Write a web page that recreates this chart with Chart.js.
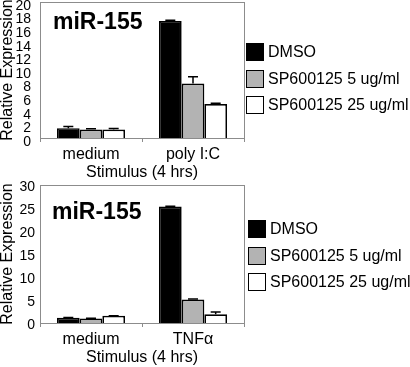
<!DOCTYPE html>
<html>
<head>
<meta charset="utf-8">
<script src="https://cdn.jsdelivr.net/npm/chart.js@4"></script>
<style>
  body { margin:0; background:#fff; width:410px; height:367px; overflow:hidden; position:relative; font-family:"Liberation Sans", Arial, sans-serif; }
  canvas { position:absolute; left:0; top:0; }
  .legend { position:absolute; left:246px; font-size:16px; color:#000; }
  .legend .item { position:absolute; left:0; white-space:nowrap; height:18px; line-height:18px; }
  .legend .box { position:absolute; left:0; top:0; width:16px; height:16px; border:1px solid #000; }
  .legend .txt { position:absolute; left:22px; top:0; }
  .tag { position:absolute; font:bold 23px "Liberation Sans", Arial, sans-serif; color:#000; }
</style>
</head>
<body>
<canvas id="c1" width="410" height="190"></canvas>
<canvas id="c2" width="410" height="190"></canvas>
<div class="tag" style="left:53px;top:8px">miR-155</div>
<div class="tag" style="left:52px;top:198px">miR-155</div>
<div class="legend" id="leg1" style="top:43px"></div>
<div class="legend" id="leg2" style="top:220px;left:248px"></div>

<script>
// --- data ---
const seriesNames = ['DMSO', 'SP600125 5 ug/ml', 'SP600125 25 ug/ml'];
const seriesColors = ['#000000', '#b3b3b3', '#ffffff'];

const polyCats = ['medium', 'poly I:C'];
const polyDmso = [1.45, 17.2];
const polySp5 = [1.25, 8.0];
const polySp25 = [1.25, 5.0];
const polyDmsoErr = [0.25, 0.1];
const polySp5Err = [0.1, 1.0];
const polySp25Err = [0.15, 0.1];

const tnfCats = ['medium', 'TNF\u03b1'];
const tnfDmso = [1.15, 25.3];
const tnfSp5 = [1.0, 5.1];
const tnfSp25 = [1.55, 1.9];
const tnfDmsoErr = [0.05, 0.1];
const tnfSp5Err = [0.05, 0.1];
const tnfSp25Err = [0.05, 0.5];

const FONT = '"Liberation Sans", Arial, sans-serif';
const FRAME = '#8c8c8c';

// --- error bars, drawn from the errs arrays through the y scale ---
const errorBars = {
  id: 'errorBars',
  afterDatasetsDraw(chart) {
    const ctx = chart.ctx;
    const y = chart.scales.y;
    ctx.save();
    ctx.strokeStyle = '#000';
    ctx.lineWidth = 1.5;
    chart.data.datasets.forEach((ds, di) => {
      const meta = chart.getDatasetMeta(di);
      meta.data.forEach((bar, i) => {
        const top = y.getPixelForValue(ds.data[i] + ds.errs[i]);
        ctx.beginPath();
        ctx.moveTo(bar.x, bar.y);
        ctx.lineTo(bar.x, top);
        ctx.moveTo(bar.x - 5, top);
        ctx.lineTo(bar.x + 5, top);
        ctx.stroke();
      });
    });
    ctx.restore();
  }
};

// --- gray frame round the plot area ---
const frame = {
  id: 'frame',
  beforeDatasetsDraw(chart) {
    const {ctx, chartArea: a} = chart;
    ctx.save();
    ctx.strokeStyle = FRAME;
    ctx.lineWidth = 1;
    ctx.strokeRect(Math.round(a.left) + 0.5, Math.round(a.top) + 0.5, Math.round(a.right - a.left), Math.round(a.bottom - a.top));
    ctx.restore();
  }
};

function makeChart(id, cats, values, errs, max, step, tickPad, labelOff) {
  return new Chart(document.getElementById(id), {
    type: 'bar',
    data: {
      labels: cats,
      datasets: values.map((v, i) => ({
        label: seriesNames[i],
        data: v,
        errs: errs[i],
        backgroundColor: seriesColors[i],
        borderColor: '#000',
        borderWidth: 1.7,
        borderSkipped: 'bottom',
        categoryPercentage: 0.667,
        barPercentage: 1.0
      }))
    },
    options: {
      responsive: false,
      maintainAspectRatio: false,
      animation: false,
      layout: { padding: { top: 2, right: 166, bottom: 2, left: 0 } },
      plugins: { legend: { display: false }, tooltip: { enabled: false } },
      scales: {
        x: {
          grid: { display: true, drawOnChartArea: false, offset: true, tickLength: 4, color: FRAME },
          border: { color: FRAME },
          ticks: { color: '#000', padding: 5, font: { family: FONT, size: 16, lineHeight: 1 } },
          title: { display: true, text: 'Stimulus (4 hrs)', color: '#000', padding: { top: -3, bottom: 0 }, font: { family: FONT, size: 16, lineHeight: 1 } }
        },
        y: {
          min: 0, max: max,
          afterFit(scale) { scale.width = 40; },
          grid: { display: false, drawTicks: false },
          border: { color: FRAME },
          ticks: { stepSize: step, autoSkip: false, color: '#000', padding: tickPad, labelOffset: labelOff, font: { family: FONT, size: 14, lineHeight: 1 } },
          title: { display: true, text: 'Relative Expression', color: '#000', padding: { top: 0, bottom: 0 }, font: { family: FONT, size: 16, lineHeight: 1 } }
        }
      }
    },
    plugins: [frame, errorBars]
  });
}

// move / size a canvas so its plot area sits at the wanted height
function place(chart, top, bottom) {
  const a = chart.chartArea;
  const topOff = a.top;
  const botOff = chart.height - a.bottom;
  chart.canvas.style.top = (top - topOff) + 'px';
  chart.resize(410, bottom - top + topOff + botOff);
  chart.update();
}

const chart1 = makeChart('c1', polyCats, [polyDmso, polySp5, polySp25], [polyDmsoErr, polySp5Err, polySp25Err], 20, 2, 9, 4);
const chart2 = makeChart('c2', tnfCats, [tnfDmso, tnfSp5, tnfSp25], [tnfDmsoErr, tnfSp5Err, tnfSp25Err], 30, 5, 5, 2);
place(chart1, 2, 138);
place(chart2, 185, 323);

// --- legends as html text ---
function buildLegend(el) {
  seriesNames.forEach((name, i) => {
    const item = document.createElement('div');
    item.className = 'item';
    item.style.top = (i * 26.5) + 'px';
    item.innerHTML = '<span class="box" style="background:' + seriesColors[i] + '"></span><span class="txt"></span>';
    item.querySelector('.txt').textContent = name;
    el.appendChild(item);
  });
}
buildLegend(document.getElementById('leg1'));
buildLegend(document.getElementById('leg2'));
</script>
</body>
</html>
